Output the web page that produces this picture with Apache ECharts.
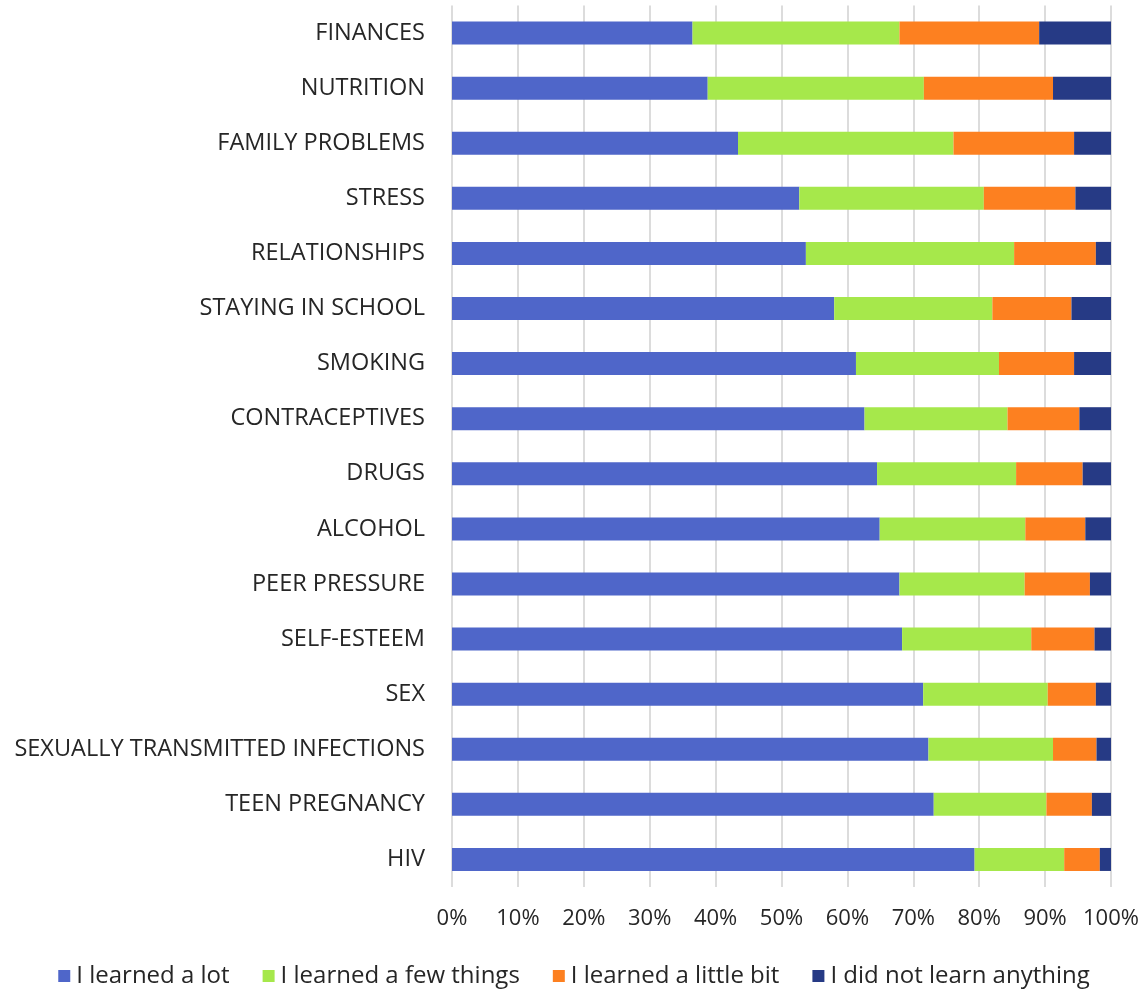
<!DOCTYPE html>
<html>
<head>
<meta charset="utf-8">
<script src="https://cdn.jsdelivr.net/npm/echarts@6/dist/echarts.min.js"></script>
<style>
html,body{margin:0;padding:0;background:#fff;}
#chart{width:1148px;height:993px;}
</style>
</head>
<body>
<div id="chart"></div>
<script>
const categories = ["FINANCES","NUTRITION","FAMILY PROBLEMS","STRESS","RELATIONSHIPS","STAYING IN SCHOOL","SMOKING","CONTRACEPTIVES","DRUGS","ALCOHOL","PEER PRESSURE","SELF-ESTEEM","SEX","SEXUALLY TRANSMITTED INFECTIONS","TEEN PREGNANCY","HIV"];
const seriesNames = ["I learned a lot","I learned a few things","I learned a little bit","I did not learn anything"];
const learnedALot     = [36.5,38.8,43.4,52.7,53.7,58.0,61.3,62.6,64.5,64.9,67.9,68.3,71.5,72.3,73.1,79.3];
const learnedAFew     = [31.4,32.8,32.7,28.0,31.6,24.0,21.7,21.7,21.1,22.1,19.0,19.6,18.9,18.9,17.1,13.6];
const learnedALittle  = [21.2,19.6,18.3,13.9,12.4,12.0,11.4,10.9,10.1, 9.1, 9.9, 9.6, 7.3, 6.6, 6.9, 5.4];
const learnedNothing  = [10.9, 8.8, 5.6, 5.4, 2.3, 6.0, 5.6, 4.8, 4.3, 3.9, 3.2, 2.5, 2.3, 2.2, 2.9, 1.7];
const xTicks = [0,10,20,30,40,50,60,70,80,90,100];
const colors = ["#4f66c9","#a6e84b","#fd8020","#263a85"];

const chart = echarts.init(document.getElementById('chart'));
const font = "'Open Sans', 'Noto Sans', sans-serif";
const dataSets = [learnedALot, learnedAFew, learnedALittle, learnedNothing];
chart.setOption({
  animation: false,
  backgroundColor: '#fff',
  textStyle: { fontFamily: font },
  grid: { left: 452, right: 37, top: 5.5, bottom: 106, containLabel: false },
  legend: {
    bottom: 0,
    left: 'center',
    itemWidth: 12,
    itemHeight: 12,
    itemGap: 33,
    icon: 'rect',
    textStyle: { fontFamily: font, fontSize: 24, color: '#262626', padding: [0,0,0,1] },
    data: seriesNames
  },
  xAxis: {
    type: 'value',
    min: xTicks[0],
    max: xTicks[xTicks.length-1],
    interval: 10,
    axisLine: { show: false },
    axisTick: { show: false },
    splitLine: { show: true, lineStyle: { color: '#d0d0d0', width: 1.5 } },
    axisLabel: { formatter: v => v + '%', fontSize: 22, color: '#262626', margin: 21, fontFamily: font }
  },
  yAxis: {
    type: 'category',
    inverse: true,
    data: categories,
    axisLine: { show: false },
    axisTick: { show: false },
    axisLabel: { fontSize: 23.5, color: '#262626', margin: 27, fontFamily: font }
  },
  series: dataSets.map((d, i) => ({
    name: seriesNames[i],
    type: 'bar',
    stack: 'total',
    barWidth: 23,
    itemStyle: { color: colors[i] },
    data: d
  }))
});
</script>
</body>
</html>
